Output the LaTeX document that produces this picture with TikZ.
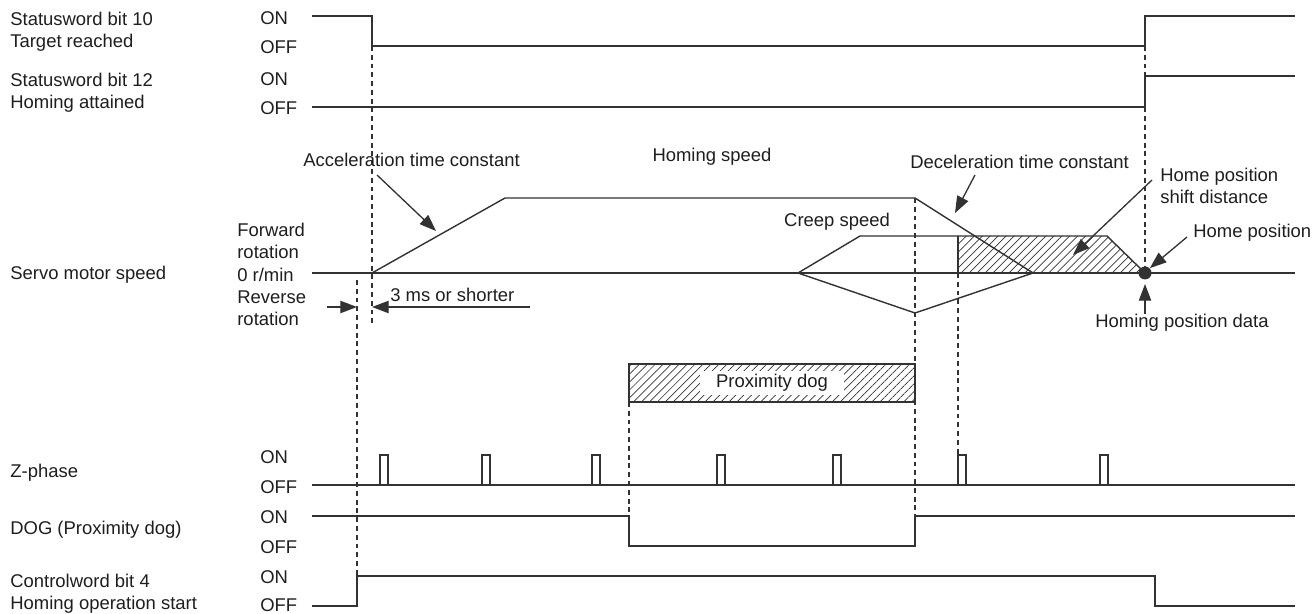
\documentclass[tikz,border=0pt]{standalone}
\usepackage{fontspec}
\setmainfont{Liberation Sans}
\usetikzlibrary{arrows.meta,patterns.meta}
\definecolor{LineG}{RGB}{50,50,50}
\definecolor{TextG}{RGB}{30,30,30}

\begin{document}
\begin{tikzpicture}[x=0.02cm,y=-0.02cm,
    font=\fontsize{10.5}{12.5}\selectfont,text=TextG,
    sig/.style={LineG,line width=0.8pt},
    guide/.style={LineG,line width=0.7pt,dash pattern=on 2.8pt off 2.2pt},
    ptr/.style={-{Triangle[length=9.5pt,width=7pt]},LineG,line width=0.75pt},
    lbl/.style={anchor=west,inner sep=0pt,align=left},
    hatch/.style={pattern={Lines[angle=45,distance=3.2pt,line width=0.4pt]},pattern color=LineG}]
  \useasboundingbox (0,0) rectangle (1315,614);

  % signal names
  \node[lbl] (sw10)  at (10,32)  {Statusword bit 10\\Target reached};
  \node[lbl] (sw12)  at (10,93)  {Statusword bit 12\\Homing attained};
  \node[lbl] (speed) at (10,275) {Servo motor speed};
  \node[lbl] (zph)   at (10,473) {Z-phase};
  \node[lbl] (dog)   at (10,530) {DOG (Proximity dog)};
  \node[lbl] (cw4)   at (10,594) {Controlword bit 4\\Homing operation start};

  % levels
  \foreach \y/\t in {18/ON,47/OFF,79/ON,108/OFF,457/ON,487/OFF,517/ON,547/OFF,577/ON,605/OFF}
    \node[lbl] (lv\y) at (260,\y) {\t};
  \node[lbl] (fwd)  at (237,241) {Forward\\rotation};
  \node[lbl] (zero) at (237,275) {0 r/min};
  \node[lbl] (rev)  at (237,308) {Reverse\\rotation};

  % guides
  \draw[guide] (372,46) -- (372,326);
  \draw[guide] (357,280) -- (357,576);
  \draw[guide] (1145,46) -- (1145,267);
  \draw[guide] (915,198) -- (915,516);
  \draw[guide] (629,402) -- (629,516);
  \draw[guide] (958,273) -- (958,455);

  % status words
  \draw[sig] (312,16) -- (372,16) -- (372,46) -- (1145,46) -- (1145,16) -- (1295,16);
  \draw[sig] (312,107) -- (1145,107) -- (1145,76) -- (1295,76);

  % motor speed
  \fill[hatch] (958,273) -- (958,236) -- (1107,236) -- (1145,273) -- cycle;
  \draw[sig] (312,273) -- (1295,273);
  \draw[sig] (372,273) -- (505,198) -- (915,198) -- (1033,273);
  \draw[sig] (798,273) -- (915,313) -- (1033,273);
  \draw[sig] (798,273) -- (860,236) -- (1107,236) -- (1145,273);
  \draw[sig] (958,236) -- (958,273);
  \node[circle,fill=LineG,inner sep=0pt,minimum size=7.4pt] (hdot) at (1145,273) {};

  \node (hspd)  at (712,157) {Homing speed};
  \node (creep) at (837,222) {Creep speed};
  \node[lbl] (acc)   at (303,160) {Acceleration time constant};
  \node[lbl] (dec)   at (910,162) {Deceleration time constant};
  \node[lbl] (shift) at (1160,186) {Home position\\shift distance};
  \node[lbl] (home)  at (1193,233) {Home position};
  \node[lbl] (hpd)   at (1095,323) {Homing position data};
  \node[lbl] (tms)   at (390,295) {3 ms or shorter};

  \coordinate (acctip) at (436,231);
  \coordinate (dectip) at (955,213);
  \coordinate (shtip)  at (1073,255);
  \coordinate (hdtip)  at (1145,284);
  \coordinate (g1) at (357,307);
  \coordinate (g2) at (372,307);
  \coordinate (g1end) at (327,307);
  \coordinate (g2end) at (530,307);

  \draw[ptr] (acc.west) ++(74,15) -- (acctip);
  \draw[ptr] (dec.west) ++(65,13) -- (dectip);
  \draw[ptr] (shift.west) ++(-8,-6) -- (shtip);
  \draw[ptr] (home.west) ++(-6,4) -- (hdot.north east);
  \draw[ptr] (hpd.north -| hdot) -- (hdtip);
  \draw[ptr] (g1end) -- (g1);
  \draw[ptr] (g2end) -- (g2);

  % proximity dog
  \draw[sig,hatch] (629,364) rectangle (915,402);
  \node[fill=white,inner xsep=9pt,inner ysep=2pt] (pdog) at (772,383) {Proximity dog};

  % Z-phase
  \draw[sig] (312,485) -- (1295,485);
  \foreach \x in {380,482,592,717,833,958,1100}
    \draw[sig] (\x,485) -- (\x,455) -- (\x+8,455) -- (\x+8,485);

  % DOG
  \draw[sig] (312,516) -- (629,516) -- (629,546) -- (915,546) -- (915,516) -- (1295,516);

  % controlword
  \draw[sig] (312,606) -- (357,606) -- (357,576) -- (1155,576) -- (1155,606) -- (1295,606);
\end{tikzpicture}
\end{document}
